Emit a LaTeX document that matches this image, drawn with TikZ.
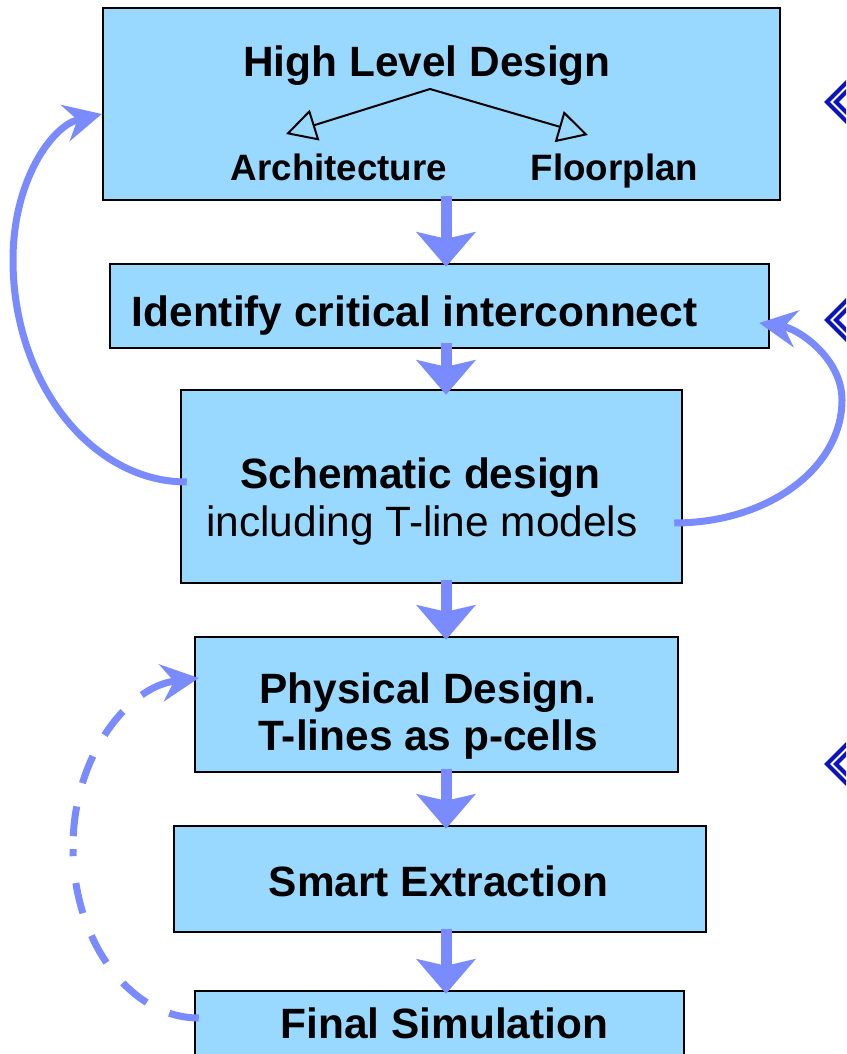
\documentclass[tikz,border=0pt]{standalone}
\usepackage{fontspec}
\setmainfont{Liberation Sans}
\usetikzlibrary{arrows.meta,calc}
\definecolor{boxfill}{RGB}{153,217,255}
\definecolor{flowc}{RGB}{122,139,255}
\definecolor{bulletc}{RGB}{12,20,190}
\begin{document}
\begin{tikzpicture}[x=1pt,y=-1pt,
  box/.style={rectangle, draw=black, line width=2.5pt, fill=boxfill, inner sep=0pt},
  big/.style={font=\fontsize{42.4}{50}\selectfont\bfseries, inner sep=0pt, anchor=base},
  bigreg/.style={font=\fontsize{42.4}{50}\selectfont, inner sep=0pt, anchor=base},
  sub/.style={font=\fontsize{36.7}{44}\selectfont\bfseries, inner sep=0pt, anchor=base},
  flow/.style={draw=flowc, line width=11pt, -{Stealth[length=35pt,width=60pt,inset=7pt,line width=0pt]}},
  loop/.style={draw=flowc, line width=7pt, -{Stealth[length=38pt,width=38pt,inset=13pt,line width=0pt]}},
  split/.style={draw=black, line width=2pt, -{Triangle[open,length=30pt,width=32pt]}},
  bullet/.style={draw=bulletc, line width=4pt}
]
\clip (0,0) rectangle (846,1054);
\fill[white] (0,0) rectangle (846,1054);

% boxes
\node[box, minimum width=677pt, minimum height=192pt] (b1) at (441.5,104) {};
\node[box, minimum width=659pt, minimum height=84pt]  (b2) at (439.5,306) {};
\node[box, minimum width=501pt, minimum height=193pt] (b3) at (431.5,486.5) {};
\node[box, minimum width=483pt, minimum height=135pt] (b4) at (436.5,704.5) {};
\node[box, minimum width=532pt, minimum height=106pt] (b5) at (440,879) {};
\node[box, minimum width=489pt, minimum height=100pt] (b6) at (439.5,1041) {};

% texts
\node[big] (t1) at (427,77) {High Level Design};
\node[sub] (arch) at (339,180) {Architecture};
\node[sub] (floor) at (614.5,180) {Floorplan};
\node[big] (t2) at (414.5,326) {Identify critical interconnect};
\node[big] (t3a) at (420.5,488) {Schematic design};
\node[bigreg] (t3b) at (422,536) {including T-line models};
\node[big] (t4a) at (428,703) {Physical Design.};
\node[big] (t4b) at (428,750) {T-lines as p-cells};
\node[big] (t5) at (438.5,896) {Smart Extraction};
\node[big] (t6) at (444.5,1038) {Final Simulation};

% split arrows in the top box
\coordinate (apex) at (430,89);
\coordinate (archtip) at (286,134);
\coordinate (floortip) at (588,135);
\draw[split] (apex) -- (archtip);
\draw[split] (apex) -- (floortip);

% main flow arrows
\coordinate (ax) at (446,0);
\draw[flow] ($(b1.south -| ax)+(0,-5)$) -- ($(b2.north -| ax)+(0,4)$);
\draw[flow] ($(b2.south -| ax)+(0,-6)$) -- ($(b3.north -| ax)+(0,6)$);
\draw[flow] ($(b3.south -| ax)+(0,-4)$) -- ($(b4.north -| ax)+(0,4)$);
\draw[flow] ($(b4.south -| ax)+(0,-4)$) -- ($(b5.north -| ax)+(0,4)$);
\draw[flow] ($(b5.south -| ax)+(0,-4)$) -- ($(b6.north -| ax)+(0,4)$);

% feedback loops
\draw[loop] ($(b3.west)+(7,-4.5)$) .. controls (91,482) and (13,382) .. (13,260)
  .. controls (13,179) and (53,126) .. ($(b1.west)+(0,10)$);
\draw[loop] ($(b3.east)+(-9,36.5)$) .. controls (768,523) and (842,468) .. (842,400)
  .. controls (842,358) and (798,329) .. ($(b2.east)+(-11,17)$);
\draw[loop, dash pattern=on 30pt off 25pt on 31pt off 26pt on 31pt off 24pt on 31pt off 27pt on 7pt off 13pt on 30pt off 24pt on 29pt off 24pt on 30pt off 25pt on 300pt]
  ($(b6.west)+(5,-23)$) .. controls (130,1018) and (73,941) .. (73,847)
  .. controls (73,754) and (130,687) .. ($(b4.west)+(5,-26.5)$);

% bullets at the right edge
\foreach \yy in {102,320,764} {
  \draw[bullet] (827,\yy) -- (846,\yy-19) -- (865,\yy) -- (846,\yy+19) -- cycle;
  \draw[bullet] (836,\yy) -- (846,\yy-10) -- (856,\yy) -- (846,\yy+10) -- cycle;
}
\end{tikzpicture}
\end{document}
